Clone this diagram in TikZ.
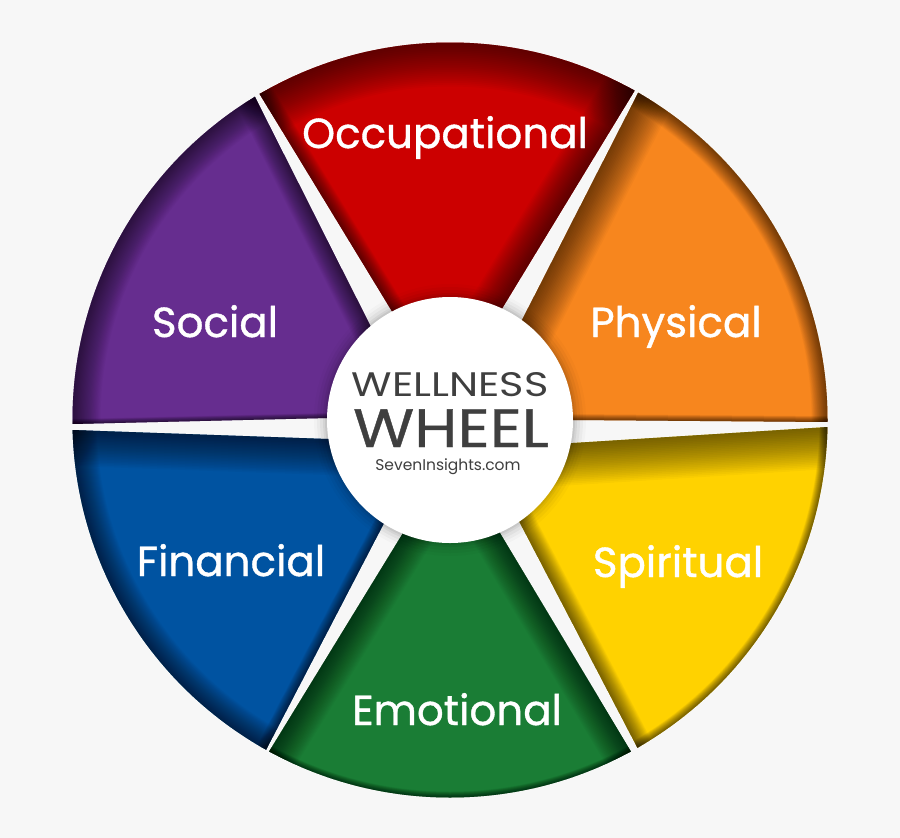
\documentclass[tikz,border=0pt]{standalone}
\usepackage{fontspec}
\setmainfont{Poppins}
\newfontfamily\hubwidefont{Poppins}[FakeBold=0.6]
\newfontfamily\segfont{Poppins}[FakeBold=0.9]
\usetikzlibrary{calc}
\definecolor{bg}{HTML}{F7F7F7}
\definecolor{occ}{HTML}{CC0000}
\definecolor{phy}{HTML}{F7861E}
\definecolor{spi}{HTML}{FFD200}
\definecolor{emo}{HTML}{1A7D35}
\definecolor{fin}{HTML}{0053A1}
\definecolor{soc}{HTML}{662D8F}
\definecolor{hubtext}{HTML}{3F3F3F}
\tikzset{
  seglabel/.style={text=white, anchor=base, inner sep=0pt, font=\segfont\fontsize{42}{42}\selectfont},
  hubbig/.style={text=hubtext, anchor=base, inner sep=0pt, text height=38pt, text depth=0pt, font=\hubwidefont\fontsize{54}{54}\selectfont},
  hubmid/.style={text=hubtext, anchor=base, inner sep=0pt, text height=24pt, text depth=0pt, font=\fontsize{34}{34}\selectfont},
  hubsmall/.style={text=hubtext, anchor=base, inner sep=0pt, text height=12pt, text depth=3pt, font=\fontsize{15.5}{15.5}\selectfont},
}
\newcommand\wshade[2]{%
  \foreach \i in {1,...,24}{%
    \draw[black, opacity=0.029, line width={\i/24*2*#2 pt}] #1;}}
\begin{document}
\begin{tikzpicture}[x=1pt,y=-1pt]
\useasboundingbox (0,0) rectangle (900,838);
\fill[bg] (0,0) rectangle (900,838);
\coordinate (C) at (450,420);
% edges: rim point and inner point
\coordinate (aP) at (255,97);  \coordinate (aPi) at (371,327);
\coordinate (aR) at (259,93);  \coordinate (aRi) at (393,313);
\coordinate (bR) at (635,90);  \coordinate (bRi) at (503,307);
\coordinate (bO) at (638,93);  \coordinate (bOi) at (523,318);
\coordinate (cO) at (828,422); \coordinate (cOi) at (573,420);
\coordinate (cY) at (828,427); \coordinate (cYi) at (573,443);
\coordinate (dY) at (637,747); \coordinate (dYi) at (520,523);
\coordinate (dG) at (630,750); \coordinate (dGi) at (500,533);
\coordinate (eG) at (270,750); \coordinate (eGi) at (403,533);
\coordinate (eB) at (267,748); \coordinate (eBi) at (382,527);
\coordinate (fB) at (72,430);  \coordinate (fBi) at (328,439);
\coordinate (fP) at (72,424);  \coordinate (fPi) at (328,418);
\foreach \e in {aP,aR,bR,bO,cO,cY,dY,dG,eG,eB,fB,fP}{
  \coordinate (\e o) at ($(\e i)!1.45!(\e)$);
  \coordinate (\e n) at ($(\e i)!-0.2!(\e)$);
}
\coordinate (farOcc) at (450,-200);
\coordinate (farPhy) at (990,110);
\coordinate (farSpi) at (990,730);
\coordinate (farEmo) at (450,1040);
\coordinate (farFin) at (-90,730);
\coordinate (farSoc) at (-90,110);
% Occupational
\begin{scope}
  \clip (C) circle[radius=377.5];
  \clip (aRn) -- (aRo) -- (farOcc) -- (bRo) -- (bRn) -- cycle;
  \fill[occ] (C) circle[radius=400];
  \wshade{(C) circle[radius=377.5]}{44}
  \wshade{(bRn) -- (bRo)}{32}
  \wshade{(aRn) -- (aRo)}{14}
\end{scope}
% Physical
\begin{scope}
  \clip (C) circle[radius=377.5];
  \clip (bOn) -- (bOo) -- (farPhy) -- (cOo) -- (cOn) -- cycle;
  \fill[phy] (C) circle[radius=400];
  \wshade{(bOn) -- (bOo)}{36}
  \wshade{(C) circle[radius=377.5]}{16}
  \wshade{(cOn) -- (cOo)}{6}
\end{scope}
% Spiritual
\begin{scope}
  \clip (C) circle[radius=377.5];
  \clip (cYn) -- (cYo) -- (farSpi) -- (dYo) -- (dYn) -- cycle;
  \fill[spi] (C) circle[radius=400];
  \wshade{(cYn) -- (cYo)}{42}
  \wshade{(dYn) -- (dYo)}{16}
  \wshade{(C) circle[radius=377.5]}{8}
\end{scope}
% Emotional
\begin{scope}
  \clip (C) circle[radius=377.5];
  \clip (dGn) -- (dGo) -- (farEmo) -- (eGo) -- (eGn) -- cycle;
  \fill[emo] (C) circle[radius=400];
  \wshade{(eGn) -- (eGo)}{30}
  \wshade{(dGn) -- (dGo)}{28}
  \wshade{(C) circle[radius=377.5]}{6}
\end{scope}
% Financial
\begin{scope}
  \clip (C) circle[radius=377.5];
  \clip (eBn) -- (eBo) -- (farFin) -- (fBo) -- (fBn) -- cycle;
  \fill[fin] (C) circle[radius=400];
  \wshade{(fBn) -- (fBo)}{36}
  \wshade{(C) circle[radius=377.5]}{24}
  \wshade{(eBn) -- (eBo)}{10}
\end{scope}
% Social
\begin{scope}
  \clip (C) circle[radius=377.5];
  \clip (fPn) -- (fPo) -- (farSoc) -- (aPo) -- (aPn) -- cycle;
  \fill[soc] (C) circle[radius=400];
  \wshade{(C) circle[radius=377.5]}{28}
  \wshade{(aPn) -- (aPo)}{20}
  \wshade{(fPn) -- (fPo)}{5}
\end{scope}
% hub shadow and hub
\foreach \r/\o in {136/0.02,133/0.03,130/0.04,127/0.05,125/0.06}{
  \fill[black, opacity=\o] (C) circle[radius=\r];
}
\node[circle, fill=white, minimum size=246pt, inner sep=0pt] (hub) at (C) {};
% labels
\node[seglabel] (occL) at (445,148) {Occupational};
\node[seglabel] (phyL) at (676,337) {Physical};
\node[seglabel] (socL) at (215,337) {Social};
\node[seglabel] (finL) at (231,576) {Financial};
\node[seglabel] (spiL) at (678,577) {Spiritual};
\node[seglabel] (emoL) at (457,725) {Emotional};
\node[hubmid] (well) at (450,396) {\scalebox{1.22}[1]{WELLNESS}};
\node[hubbig] (wheel) at (451,447) {\scalebox{1.16}[1]{WHEEL}};
\node[hubsmall] (site) at (448,470) {SevenInsights.com};
\end{tikzpicture}
\end{document}
